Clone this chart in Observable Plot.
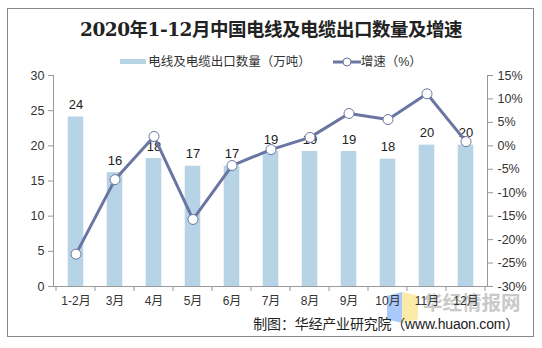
<!DOCTYPE html>
<html>
<head>
<meta charset="utf-8">
<script src="https://cdn.jsdelivr.net/npm/d3@7"></script>
<script src="https://cdn.jsdelivr.net/npm/@observablehq/plot@0.6"></script>
<style>
  html, body { margin: 0; padding: 0; background: #fff; }
  #wrap { position: relative; width: 542px; height: 348px; overflow: hidden;
          font-family: "Liberation Sans", "Noto Sans CJK SC", sans-serif; color: #333; }
  #frame { position: absolute; left: 7px; top: 8px; width: 527px; height: 329px; border: 1.5px solid #888; box-sizing: border-box; }
  #title { position: absolute; left: 7px; width: 528px; top: 18px; text-align: center;
           font-family: "DejaVu Serif", "Noto Sans CJK SC", serif; font-weight: bold; font-size: 18.5px; color: #222; line-height: 24px; letter-spacing: -0.5px; }
  #legend { position: absolute; left: 0; width: 542px; top: 52px; text-align: center; font-size: 12.5px; line-height: 18px; white-space: nowrap; }
  .sw { display: inline-block; vertical-align: middle; }
  #src { position: absolute; right: 23px; top: 315px; font-size: 14px; color: #222; line-height: 18px; white-space: nowrap; letter-spacing: -0.2px; }
  #wm { position: absolute; left: 423px; top: 290px; font-size: 19.5px; font-weight: bold; color: #c9c9c9; white-space: nowrap; line-height: 24px; font-family: "Noto Sans CJK SC", sans-serif; }
  #logoA { position: absolute; left: 387px; top: 292px; width: 15px; height: 31px; background: #a9c9fa; clip-path: polygon(0 12%, 100% 0, 100% 100%, 0 88%); }
  #logoB { position: absolute; left: 402px; top: 292px; width: 16px; height: 31px; background: #fbeaa8; clip-path: polygon(0 0, 100% 12%, 100% 88%, 0 100%); }
  #svgbox { position: absolute; left: 0; top: 0; }
</style>
</head>
<body>
<div id="wrap">
  <div id="frame"></div>
  <div id="logoA"></div>
  <div id="logoB"></div>
  <div id="wm">华经情报网</div>
  <div id="svgbox"></div>
  <div id="title"></div>
  <div id="legend"></div>
  <div id="src"></div>
</div>
<script>
const titleText = "2020年1-12月中国电线及电缆出口数量及增速";
const legendBar = "电线及电缆出口数量（万吨）";
const legendLine = "增速（%）";
const sourceText = "制图：华经产业研究院（www.huaon.com）";

const categories = ["1-2月","3月","4月","5月","6月","7月","8月","9月","10月","11月","12月"];
const quantity = [24.1, 16.2, 18.2, 17.1, 17.1, 19.2, 19.2, 19.2, 18.1, 20.1, 20.1];
const growth = [-23.1, -7.2, 2.0, -15.7, -4.2, -0.8, 1.8, 6.9, 5.6, 11.1, 0.9];
const leftTicks = [0, 5, 10, 15, 20, 25, 30];
const rightTicks = [-30, -25, -20, -15, -10, -5, 0, 5, 10, 15];
const leftDomain = [0, 30];
const rightDomain = [-30, 15];

const barColor = "#b7d4e6";
const lineColor = "#6a76a1";
const axisColor = "#999";

document.getElementById("title").textContent = titleText;
document.getElementById("src").textContent = sourceText;
document.getElementById("legend").innerHTML =
  `<span class="sw" style="width:26px;height:5px;background:${barColor};margin-right:2px"></span>` +
  `<span style="vertical-align:middle">${legendBar}</span>` +
  `<span class="sw" style="width:22px"></span>` +
  `<svg class="sw" width="28" height="12"><line x1="0" x2="28" y1="6" y2="6" stroke="${lineColor}" stroke-width="3"/><circle cx="14" cy="6" r="4" fill="#fff" stroke="${lineColor}" stroke-width="1"/></svg>` +
  `<span style="vertical-align:middle">${legendLine}</span>`;

const data = categories.map((c, i) => ({cat: c, qty: quantity[i], g: growth[i]}));

// map the right-axis (growth %) domain onto the left-axis scale
const toLeft = g => leftDomain[0] + (g - rightDomain[0]) / (rightDomain[1] - rightDomain[0]) * (leftDomain[1] - leftDomain[0]);
const fromLeft = v => rightDomain[0] + (v - leftDomain[0]) / (leftDomain[1] - leftDomain[0]) * (rightDomain[1] - rightDomain[0]);

const W = 542, H = 348, mL = 53, mR = 55, mT = 75, mB = 62;
const step = (W - mL - mR) / categories.length;
const barW = 16;
const inset = (step - barW) / 2;

const chart = Plot.plot({
  width: W, height: H,
  marginLeft: mL, marginRight: mR, marginTop: mT, marginBottom: mB,
  style: {fontFamily: "'Liberation Sans', 'Noto Sans CJK SC', sans-serif", fontSize: "12px", color: "#333", background: "transparent"},
  x: {domain: categories, padding: 0, axis: null, label: null},
  y: {domain: leftDomain, axis: null, label: null},
  marks: [
    Plot.barY(data, {x: "cat", y: "qty", fill: barColor, insetLeft: inset, insetRight: inset}),
    Plot.text(data, {x: "cat", y: "qty", text: d => d3.format(".0f")(d.qty), dy: -12, fontSize: 13, fill: "#222"}),
    Plot.line(data, {x: "cat", y: d => toLeft(d.g), stroke: lineColor, strokeWidth: 3}),
    Plot.dot(data, {x: "cat", y: d => toLeft(d.g), r: 5, fill: "#fff", stroke: lineColor, strokeWidth: 1}),
    Plot.axisY(leftTicks, {anchor: "left", label: null, tickSize: 5, tickPadding: 4, stroke: axisColor, fill: "#333", fontSize: 12.5}),
    Plot.axisY(rightTicks.map(toLeft), {anchor: "right", label: null, tickSize: 5, tickPadding: 5, stroke: axisColor, fill: "#333", fontSize: 12.5,
      tickFormat: v => Math.round(fromLeft(v)) + "%"}),
    Plot.axisX({anchor: "bottom", label: null, tickSize: 0, tickPadding: 10, fill: "#333", fontSize: 12}),
    Plot.ruleY([leftDomain[0]], {stroke: axisColor}),
    Plot.frame({anchor: "left", stroke: axisColor}),
    Plot.frame({anchor: "right", stroke: axisColor})
  ]
});
document.getElementById("svgbox").appendChild(chart);

// category boundary ticks on the x axis, from the band scale
const sx = chart.scale("x");
const svg = d3.select(chart.tagName.toLowerCase() === "svg" ? chart : chart.querySelector("svg"));
const bounds = categories.map(c => sx.apply(c)).concat([sx.apply(categories[categories.length - 1]) + sx.step]);
const y0 = chart.scale("y").apply(leftDomain[0]);
svg.append("g").selectAll("line").data(bounds).join("line")
  .attr("x1", d => d).attr("x2", d => d)
  .attr("y1", y0).attr("y2", y0 + 5)
  .attr("stroke", axisColor);
</script>
</body>
</html>
